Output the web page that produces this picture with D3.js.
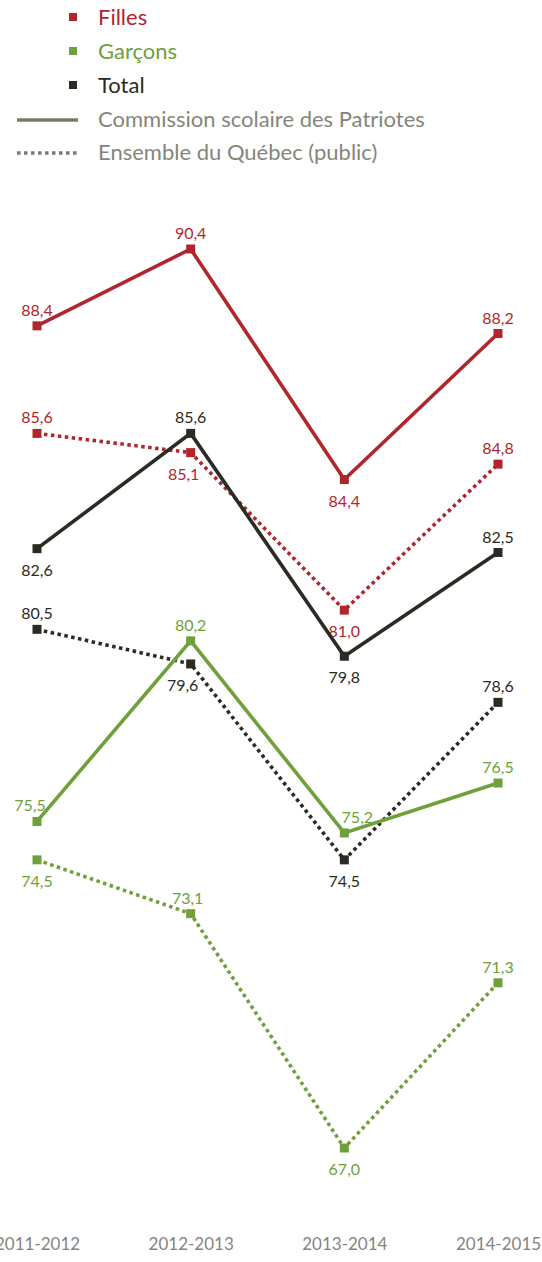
<!DOCTYPE html>
<html>
<head>
<meta charset="utf-8">
<script src="https://cdn.jsdelivr.net/npm/d3@7"></script>
<style>
  body { margin: 0; background: #fff; }
  svg { display: block; font-family: "Lato", "Open Sans", sans-serif; }
</style>
</head>
<body>
<script>
var years = ["2011-2012", "2012-2013", "2013-2014", "2014-2015"];

// Commission scolaire des Patriotes (solid)
var fillesCSP  = [88.4, 90.4, 84.4, 88.2];
var garconsCSP = [75.5, 80.2, 75.2, 76.5];
var totalCSP   = [82.6, 85.6, 79.8, 82.5];

// Ensemble du Québec (public) (dotted)
var fillesQC  = [85.6, 85.1, 81.0, 84.8];
var garconsQC = [74.5, 73.1, 67.0, 71.3];
var totalQC   = [80.5, 79.6, 74.5, 78.6];

var yDomain = [67.0, 90.4];

var red = "#b1262d", green = "#6fa03c", dark = "#2a2b22";

// label placement: "a" above, "b" below, with optional x shift
var series = [
  {vals: fillesCSP,  color: red,   dotted: false, pos: ["a","a","b","a"], dx: [0,0,0,0]},
  {vals: fillesQC,   color: red,   dotted: true,  pos: ["a","b","b","a"], dx: [0,-7,0,0]},
  {vals: totalCSP,   color: dark,  dotted: false, pos: ["b","a","b","a"], dx: [0,0,0,0]},
  {vals: totalQC,    color: dark,  dotted: true,  pos: ["a","b","b","a"], dx: [0,-8,0,0]},
  {vals: garconsCSP, color: green, dotted: false, pos: ["a","a","a","a"], dx: [-7,0,13,0]},
  {vals: garconsQC,  color: green, dotted: true,  pos: ["b","a","b","a"], dx: [0,-3,0,0]}
];

var w = 542, h = 1262;

var svg = d3.select("body").append("svg")
  .attr("width", w)
  .attr("height", h);

var x = d3.scalePoint().domain(years).range([37, 498]);
var y = d3.scaleLinear().domain(yDomain).range([1148, 249]);

var line = d3.line()
  .x(function(d, i) { return x(years[i]); })
  .y(function(d) { return y(d); });

var fmt = function(v) { return d3.format(".1f")(v).replace(".", ","); };

series.forEach(function(s) {
  var g = svg.append("g");
  g.append("path")
    .attr("d", line(s.vals))
    .attr("fill", "none")
    .attr("stroke", s.color)
    .attr("stroke-width", 3.6)
    .attr("stroke-dasharray", s.dotted ? "3.5,3.5" : null)
    .attr("stroke-linejoin", "miter");
  g.selectAll("rect").data(s.vals).enter().append("rect")
    .attr("x", function(d, i) { return x(years[i]) - 4.5; })
    .attr("y", function(d) { return y(d) - 4.5; })
    .attr("width", 9).attr("height", 9)
    .attr("fill", s.color);
  g.selectAll("text").data(s.vals).enter().append("text")
    .attr("x", function(d, i) { return x(years[i]) + s.dx[i]; })
    .attr("y", function(d, i) { return y(d) + (s.pos[i] == "a" ? -10 : 27); })
    .attr("text-anchor", "middle")
    .attr("font-size", 16)
    .attr("fill", s.color)
    .text(fmt);
});

// x axis labels
var xAxis = d3.axisBottom(x).tickSize(0).tickPadding(0);
var ax = svg.append("g")
  .attr("transform", "translate(0,1238)")
  .call(xAxis);
ax.select(".domain").remove();
ax.selectAll("text")
  .attr("font-size", 17)
  .attr("font-family", "Lato, sans-serif")
  .attr("fill", "#85857a");

// legend
var legend = svg.append("g");
var legItems = [
  {label: "Filles", color: red},
  {label: "Garçons", color: green},
  {label: "Total", color: dark}
];
legItems.forEach(function(d, i) {
  var cy = 17 + i * 34;
  legend.append("rect")
    .attr("x", 69).attr("y", cy - 4).attr("width", 8).attr("height", 8)
    .attr("fill", d.color);
  legend.append("text")
    .attr("x", 98).attr("y", cy + 8)
    .attr("font-size", 22)
    .attr("fill", d.color)
    .text(d.label);
});
var lineLeg = [
  {label: "Commission scolaire des Patriotes", dotted: false},
  {label: "Ensemble du Québec (public)", dotted: true}
];
lineLeg.forEach(function(d, i) {
  var cy = 120 + i * 33;
  legend.append("line")
    .attr("x1", 17).attr("x2", 78)
    .attr("y1", cy).attr("y2", cy)
    .attr("stroke", "#7a7b6e")
    .attr("stroke-width", 3.5)
    .attr("stroke-dasharray", d.dotted ? "3.5,3.5" : null);
  legend.append("text")
    .attr("x", 98).attr("y", cy + 7)
    .attr("font-size", 22)
    .attr("fill", "#85857a")
    .text(d.label);
});
</script>
</body>
</html>
